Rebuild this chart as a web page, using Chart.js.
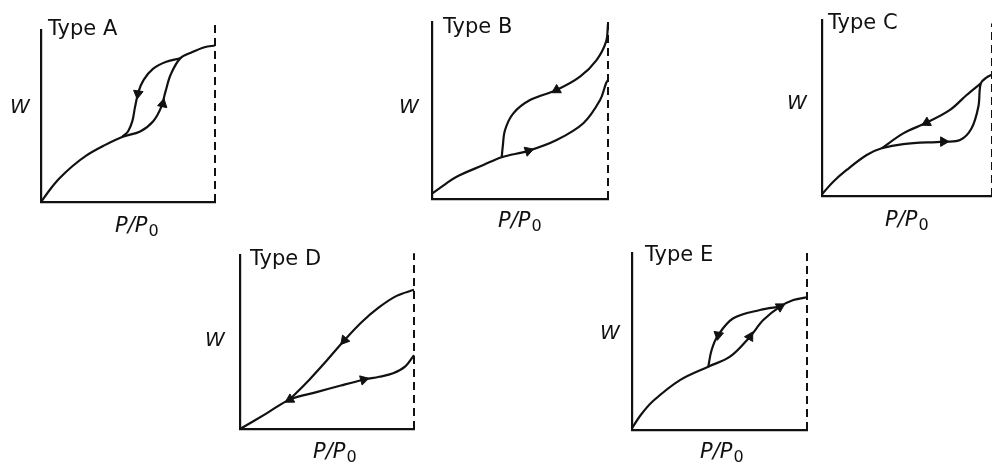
<!DOCTYPE html>
<html>
<head>
<meta charset="utf-8">
<script src="https://cdn.jsdelivr.net/npm/chart.js@4.4.0/dist/chart.umd.min.js"></script>
<style>
  html, body { margin: 0; padding: 0; background: #fff; }
  body { width: 992px; height: 463px; position: relative; overflow: hidden; }
  canvas { position: absolute; }
</style>
</head>
<body>
<canvas id="typeA"></canvas>
<canvas id="typeB"></canvas>
<canvas id="typeC"></canvas>
<canvas id="typeD"></canvas>
<canvas id="typeE"></canvas>
<script>
// relative pressure P/P0 (x) and amount adsorbed W (y), both scaled 0..1

// Type A
const typeA_adsX = [0, 0.05, 0.105, 0.18, 0.26, 0.36, 0.466, 0.57, 0.645, 0.69, 0.715, 0.745, 0.8, 0.87, 0.94, 1];
const typeA_adsY = [0, 0.07, 0.136, 0.208, 0.27, 0.327, 0.378, 0.41, 0.47, 0.55, 0.64, 0.74, 0.835, 0.872, 0.9, 0.91];
const typeA_desX = [0.8, 0.72, 0.645, 0.59, 0.56, 0.54, 0.525, 0.5, 0.466];
const typeA_desY = [0.835, 0.815, 0.775, 0.71, 0.64, 0.55, 0.47, 0.41, 0.378];
const typeA_arrowX = [0.557, 0.7];
const typeA_arrowY = [0.63, 0.57];
const typeA_arrowRot = [188, 12];

// Type B
const typeB_adsX = [0, 0.07, 0.14, 0.292, 0.396, 0.547, 0.708, 0.86, 0.955, 0.989, 1];
const typeB_adsY = [0.03, 0.08, 0.126, 0.192, 0.236, 0.272, 0.333, 0.428, 0.559, 0.654, 0.672];
const typeB_desX = [1, 0.989, 0.935, 0.841, 0.708, 0.557, 0.462, 0.415, 0.402, 0.396];
const typeB_desY = [0.99, 0.889, 0.785, 0.691, 0.616, 0.559, 0.484, 0.39, 0.296, 0.236];
const typeB_arrowX = [0.708, 0.547];
const typeB_arrowY = [0.616, 0.272];
const typeB_arrowRot = [240, 72];

// Type C
const typeC_adsX = [0, 0.066, 0.145, 0.263, 0.351, 0.478, 0.714, 0.812, 0.88, 0.92, 0.934, 0.969, 1];
const typeC_adsY = [0.01, 0.081, 0.148, 0.233, 0.271, 0.295, 0.309, 0.318, 0.385, 0.508, 0.64, 0.674, 0.69];
const typeC_desX = [0.934, 0.851, 0.753, 0.616, 0.478, 0.351];
const typeC_desY = [0.64, 0.574, 0.489, 0.417, 0.356, 0.271];
const typeC_arrowX = [0.616, 0.714];
const typeC_arrowY = [0.417, 0.309];
const typeC_arrowRot = [242, 90];

// Type D
const typeD_adsX = [0, 0.153, 0.287, 0.44, 0.58, 0.71, 0.8, 0.88, 0.95, 1];
const typeD_adsY = [0, 0.09, 0.17, 0.212, 0.25, 0.283, 0.3, 0.32, 0.36, 0.425];
const typeD_desX = [1, 0.9, 0.8, 0.7, 0.6, 0.5, 0.4, 0.287];
const typeD_desY = [0.8, 0.765, 0.7, 0.615, 0.51, 0.395, 0.285, 0.17];
const typeD_arrowX = [0.6, 0.71, 0.287];
const typeD_arrowY = [0.51, 0.283, 0.17];
const typeD_arrowRot = [220, 75, 240];

// Type E
const typeE_adsX = [0, 0.05, 0.122, 0.274, 0.436, 0.56, 0.674, 0.75, 0.846, 0.922, 1];
const typeE_adsY = [0.01, 0.085, 0.165, 0.282, 0.358, 0.414, 0.527, 0.621, 0.697, 0.734, 0.75];
const typeE_desX = [0.846, 0.731, 0.579, 0.493, 0.455, 0.436];
const typeE_desY = [0.697, 0.678, 0.631, 0.537, 0.452, 0.358];
const typeE_arrowX = [0.493, 0.674, 0.846];
const typeE_arrowY = [0.537, 0.527, 0.697];
const typeE_arrowRot = [190, 30, 60];

const saturationX = 1;

const INK = '#111';
const PAD = { left: 50, right: 12, top: 34, bottom: 40 };

// page positions of each plot box and its labels
const panels = [
    { id: 'typeA', name: 'Type A', left: 41, top: 30, right: 215, bottom: 202, dashTop: 1.04,
      title: [48, 35], w: [20, 108], p: [115, 232],
      ads: [typeA_adsX, typeA_adsY], des: [typeA_desX, typeA_desY],
      arrows: [typeA_arrowX, typeA_arrowY, typeA_arrowRot] },
    { id: 'typeB', name: 'Type B', left: 432, top: 22, right: 608, bottom: 199, dashTop: 1.0,
      title: [443, 33], w: [409, 108], p: [498, 227],
      ads: [typeB_adsX, typeB_adsY], des: [typeB_desX, typeB_desY],
      arrows: [typeB_arrowX, typeB_arrowY, typeB_arrowRot] },
    { id: 'typeC', name: 'Type C', left: 822, top: 20, right: 992, bottom: 196, dashTop: 0.98,
      title: [828, 29], w: [797, 104], p: [885, 226],
      ads: [typeC_adsX, typeC_adsY], des: [typeC_desX, typeC_desY],
      arrows: [typeC_arrowX, typeC_arrowY, typeC_arrowRot] },
    { id: 'typeD', name: 'Type D', left: 240, top: 255, right: 414, bottom: 429, dashTop: 1.01,
      title: [250, 265], w: [215, 341], p: [313, 458],
      ads: [typeD_adsX, typeD_adsY], des: [typeD_desX, typeD_desY],
      arrows: [typeD_arrowX, typeD_arrowY, typeD_arrowRot] },
    { id: 'typeE', name: 'Type E', left: 632, top: 253, right: 807, bottom: 430, dashTop: 1.0,
      title: [645, 261], w: [610, 334], p: [700, 458],
      ads: [typeE_adsX, typeE_adsY], des: [typeE_desX, typeE_desY],
      arrows: [typeE_arrowX, typeE_arrowY, typeE_arrowRot] }
];

function toPoints(xs, ys) {
    return xs.map(function (x, i) {
        return { x: x, y: ys[i] };
    });
}

function labelPlugin(panel, offX, offY) {
    return {
        id: 'panelLabels',
        afterDraw: function (chart) {
            const ctx = chart.ctx;
            ctx.save();
            ctx.fillStyle = INK;
            ctx.textBaseline = 'alphabetic';
            ctx.textAlign = 'left';
            ctx.font = '21px "DejaVu Sans", sans-serif';
            ctx.fillText(panel.name, panel.title[0] - offX, panel.title[1] - offY);

            ctx.textAlign = 'center';
            ctx.textBaseline = 'middle';
            ctx.font = 'italic 20px "DejaVu Sans", sans-serif';
            ctx.fillText('W', panel.w[0] - offX, panel.w[1] - offY);

            ctx.textAlign = 'left';
            ctx.textBaseline = 'alphabetic';
            ctx.font = 'italic 21px "DejaVu Sans", sans-serif';
            const px = panel.p[0] - offX;
            const py = panel.p[1] - offY;
            ctx.fillText('P/P', px, py);
            const wd = ctx.measureText('P/P').width;
            ctx.font = '16px "DejaVu Sans", sans-serif';
            ctx.fillText('0', px + wd + 1, py + 4);
            ctx.restore();
        }
    };
}

panels.forEach(function (panel) {
    const canvas = document.getElementById(panel.id);
    const offX = panel.left - PAD.left;
    const offY = panel.top - PAD.top;
    canvas.width = (panel.right - panel.left) + PAD.left + PAD.right;
    canvas.height = (panel.bottom - panel.top) + PAD.top + PAD.bottom;
    canvas.style.left = offX + 'px';
    canvas.style.top = offY + 'px';

    const curve = {
        showLine: true,
        borderColor: INK,
        borderWidth: 2.2,
        pointRadius: 0,
        tension: 0.35,
        clip: false
    };

    new Chart(canvas, {
        type: 'line',
        data: {
            datasets: [
                Object.assign({ label: 'adsorption', data: toPoints(panel.ads[0], panel.ads[1]) }, curve),
                Object.assign({ label: 'desorption', data: toPoints(panel.des[0], panel.des[1]) }, curve),
                {
                    label: 'saturation',
                    data: [{ x: saturationX, y: 0 }, { x: saturationX, y: panel.dashTop }],
                    borderColor: INK,
                    borderWidth: 2,
                    borderDash: [8, 5],
                    pointRadius: 0,
                    clip: false
                },
                {
                    label: 'direction',
                    data: toPoints(panel.arrows[0], panel.arrows[1]),
                    showLine: false,
                    pointStyle: 'triangle',
                    pointRadius: 5.5,
                    pointRotation: panel.arrows[2],
                    pointBackgroundColor: INK,
                    pointBorderColor: INK,
                    pointBorderWidth: 1,
                    clip: false
                }
            ]
        },
        options: {
            responsive: false,
            animation: false,
            events: [],
            layout: {
                autoPadding: false,
                padding: PAD
            },
            plugins: {
                legend: { display: false },
                tooltip: { enabled: false }
            },
            scales: {
                x: {
                    type: 'linear',
                    min: 0,
                    max: 1,
                    ticks: { display: false },
                    grid: { display: false, drawTicks: false },
                    border: { color: INK, width: 2.2 }
                },
                y: {
                    type: 'linear',
                    min: 0,
                    max: 1,
                    ticks: { display: false },
                    grid: { display: false, drawTicks: false },
                    border: { color: INK, width: 2.2 }
                }
            }
        },
        plugins: [labelPlugin(panel, offX, offY)]
    });
});
</script>
</body>
</html>
